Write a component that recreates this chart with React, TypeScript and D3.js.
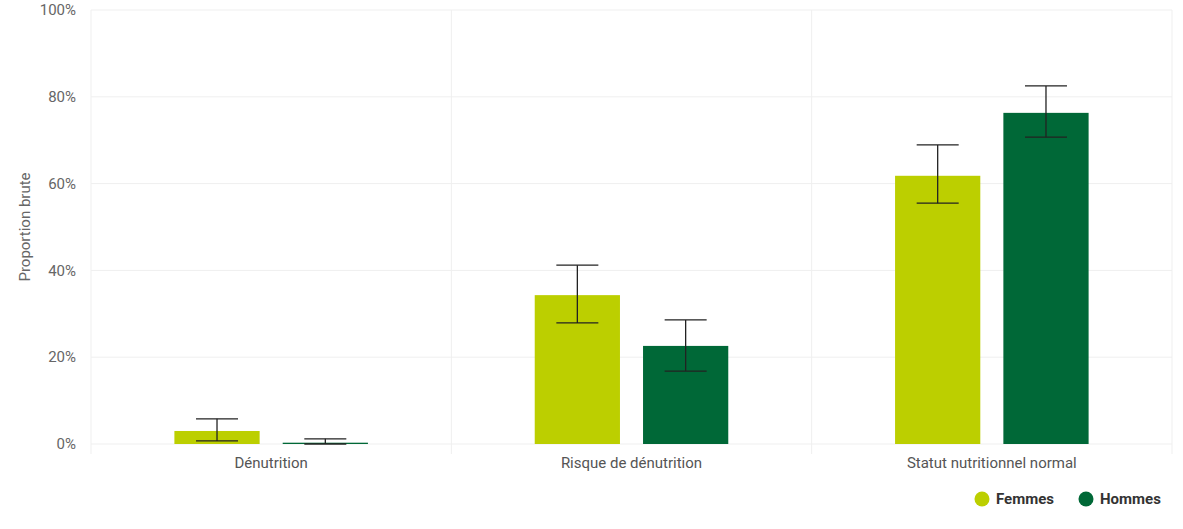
import * as d3 from "d3";
import React, { useEffect, useRef } from "react";

const categories = ["Dénutrition", "Risque de dénutrition", "Statut nutritionnel normal"];
const series = ["Femmes", "Hommes"];
const femmes = [3.0, 34.3, 61.8];
const hommes = [0.3, 22.6, 76.3];
const femmesLow = [0.7, 27.9, 55.5];
const femmesHigh = [5.8, 41.2, 68.9];
const hommesLow = [0.0, 16.8, 70.7];
const hommesHigh = [1.2, 28.6, 82.5];
const yTicks = [0, 20, 40, 60, 80, 100];
const COLORS = ["#bccf00", "#006837"];

const W = 1183;
const H = 529;

export default function App() {
  const svgRef = useRef<SVGSVGElement | null>(null);

  useEffect(() => {
    const svg = d3.select(svgRef.current);
    svg.selectAll("*").remove();

    const m = { left: 91, right: 11, top: 10, bottom: 85 };
    const innerW = W - m.left - m.right;
    const innerH = H - m.top - m.bottom;
    const font = "Roboto, 'Noto Sans', sans-serif";

    const x = d3.scaleBand<string>().domain(categories).range([0, innerW]);
    const xs = d3.scaleBand<string>().domain(series).range([0, x.bandwidth()]).paddingInner(0.213).paddingOuter(0.77);
    const y = d3.scaleLinear().domain([0, 100]).range([innerH, 0]);

    const g = svg.append("g").attr("transform", `translate(${m.left},${m.top})`);

    // horizontal grid
    g.append("g")
      .selectAll("line")
      .data(yTicks)
      .join("line")
      .attr("x1", 0)
      .attr("x2", innerW)
      .attr("y1", d => y(d))
      .attr("y2", d => y(d))
      .attr("stroke", "#efefef")
      .attr("stroke-width", 1);

    // vertical category separators
    const bounds = categories.map(c => x(c) ?? 0).concat([innerW]);
    g.append("g")
      .selectAll("line")
      .data(bounds)
      .join("line")
      .attr("x1", d => d)
      .attr("x2", d => d)
      .attr("y1", 0)
      .attr("y2", innerH + 10)
      .attr("stroke", "#efefef")
      .attr("stroke-width", 1);

    // y tick labels
    g.append("g")
      .selectAll("text")
      .data(yTicks)
      .join("text")
      .attr("x", -15)
      .attr("y", d => y(d))
      .attr("dy", "0.35em")
      .attr("text-anchor", "end")
      .attr("font-family", font)
      .attr("font-size", 15)
      .attr("fill", "#666")
      .text(d => `${d}%`);

    // y axis title
    g.append("text")
      .attr("transform", `translate(${-61},${innerH / 2}) rotate(-90)`)
      .attr("text-anchor", "middle")
      .attr("font-family", font)
      .attr("font-size", 15)
      .attr("fill", "#666")
      .text("Proportion brute");

    // x labels
    g.append("g")
      .selectAll("text")
      .data(categories)
      .join("text")
      .attr("x", d => (x(d) ?? 0) + x.bandwidth() / 2)
      .attr("y", innerH + 24)
      .attr("text-anchor", "middle")
      .attr("font-family", font)
      .attr("font-size", 15)
      .attr("fill", "#555")
      .text(d => d);

    const rows = categories.flatMap((c, i) => [
      { cat: c, s: "Femmes", v: femmes[i], lo: femmesLow[i], hi: femmesHigh[i], color: COLORS[0] },
      { cat: c, s: "Hommes", v: hommes[i], lo: hommesLow[i], hi: hommesHigh[i], color: COLORS[1] },
    ]);
    const cx = (d: { cat: string; s: string }) => (x(d.cat) ?? 0) + (xs(d.s) ?? 0);

    g.append("g")
      .selectAll("rect")
      .data(rows)
      .join("rect")
      .attr("x", d => cx(d))
      .attr("width", xs.bandwidth())
      .attr("y", d => y(d.v))
      .attr("height", d => innerH - y(d.v))
      .attr("fill", d => d.color);

    // error bars
    const eb = g.append("g").attr("stroke", "#222").attr("stroke-width", 1.3).attr("fill", "none");
    const cap = 21;
    rows.forEach(d => {
      const mx = cx(d) + xs.bandwidth() / 2;
      eb.append("line").attr("x1", mx).attr("x2", mx).attr("y1", y(d.hi)).attr("y2", y(d.lo));
      eb.append("line").attr("x1", mx - cap).attr("x2", mx + cap).attr("y1", y(d.hi)).attr("y2", y(d.hi));
      eb.append("line").attr("x1", mx - cap).attr("x2", mx + cap).attr("y1", y(d.lo)).attr("y2", y(d.lo));
    });

    // legend
    const legendX = [982, 1086];
    const lg = svg.append("g");
    series.forEach((s, i) => {
      lg.append("circle").attr("cx", legendX[i]).attr("cy", 499).attr("r", 7.5).attr("fill", COLORS[i]);
      lg.append("text")
        .attr("x", legendX[i] + 14)
        .attr("y", 499)
        .attr("dy", "0.35em")
        .attr("font-family", font)
        .attr("font-size", 15)
        .attr("font-weight", 700)
        .attr("fill", "#333")
        .text(s);
    });
  }, []);

  return (
    <svg
      ref={svgRef}
      width={W}
      height={H}
      style={{ position: "fixed", left: 0, top: 0, background: "#fff" }}
    />
  );
}
